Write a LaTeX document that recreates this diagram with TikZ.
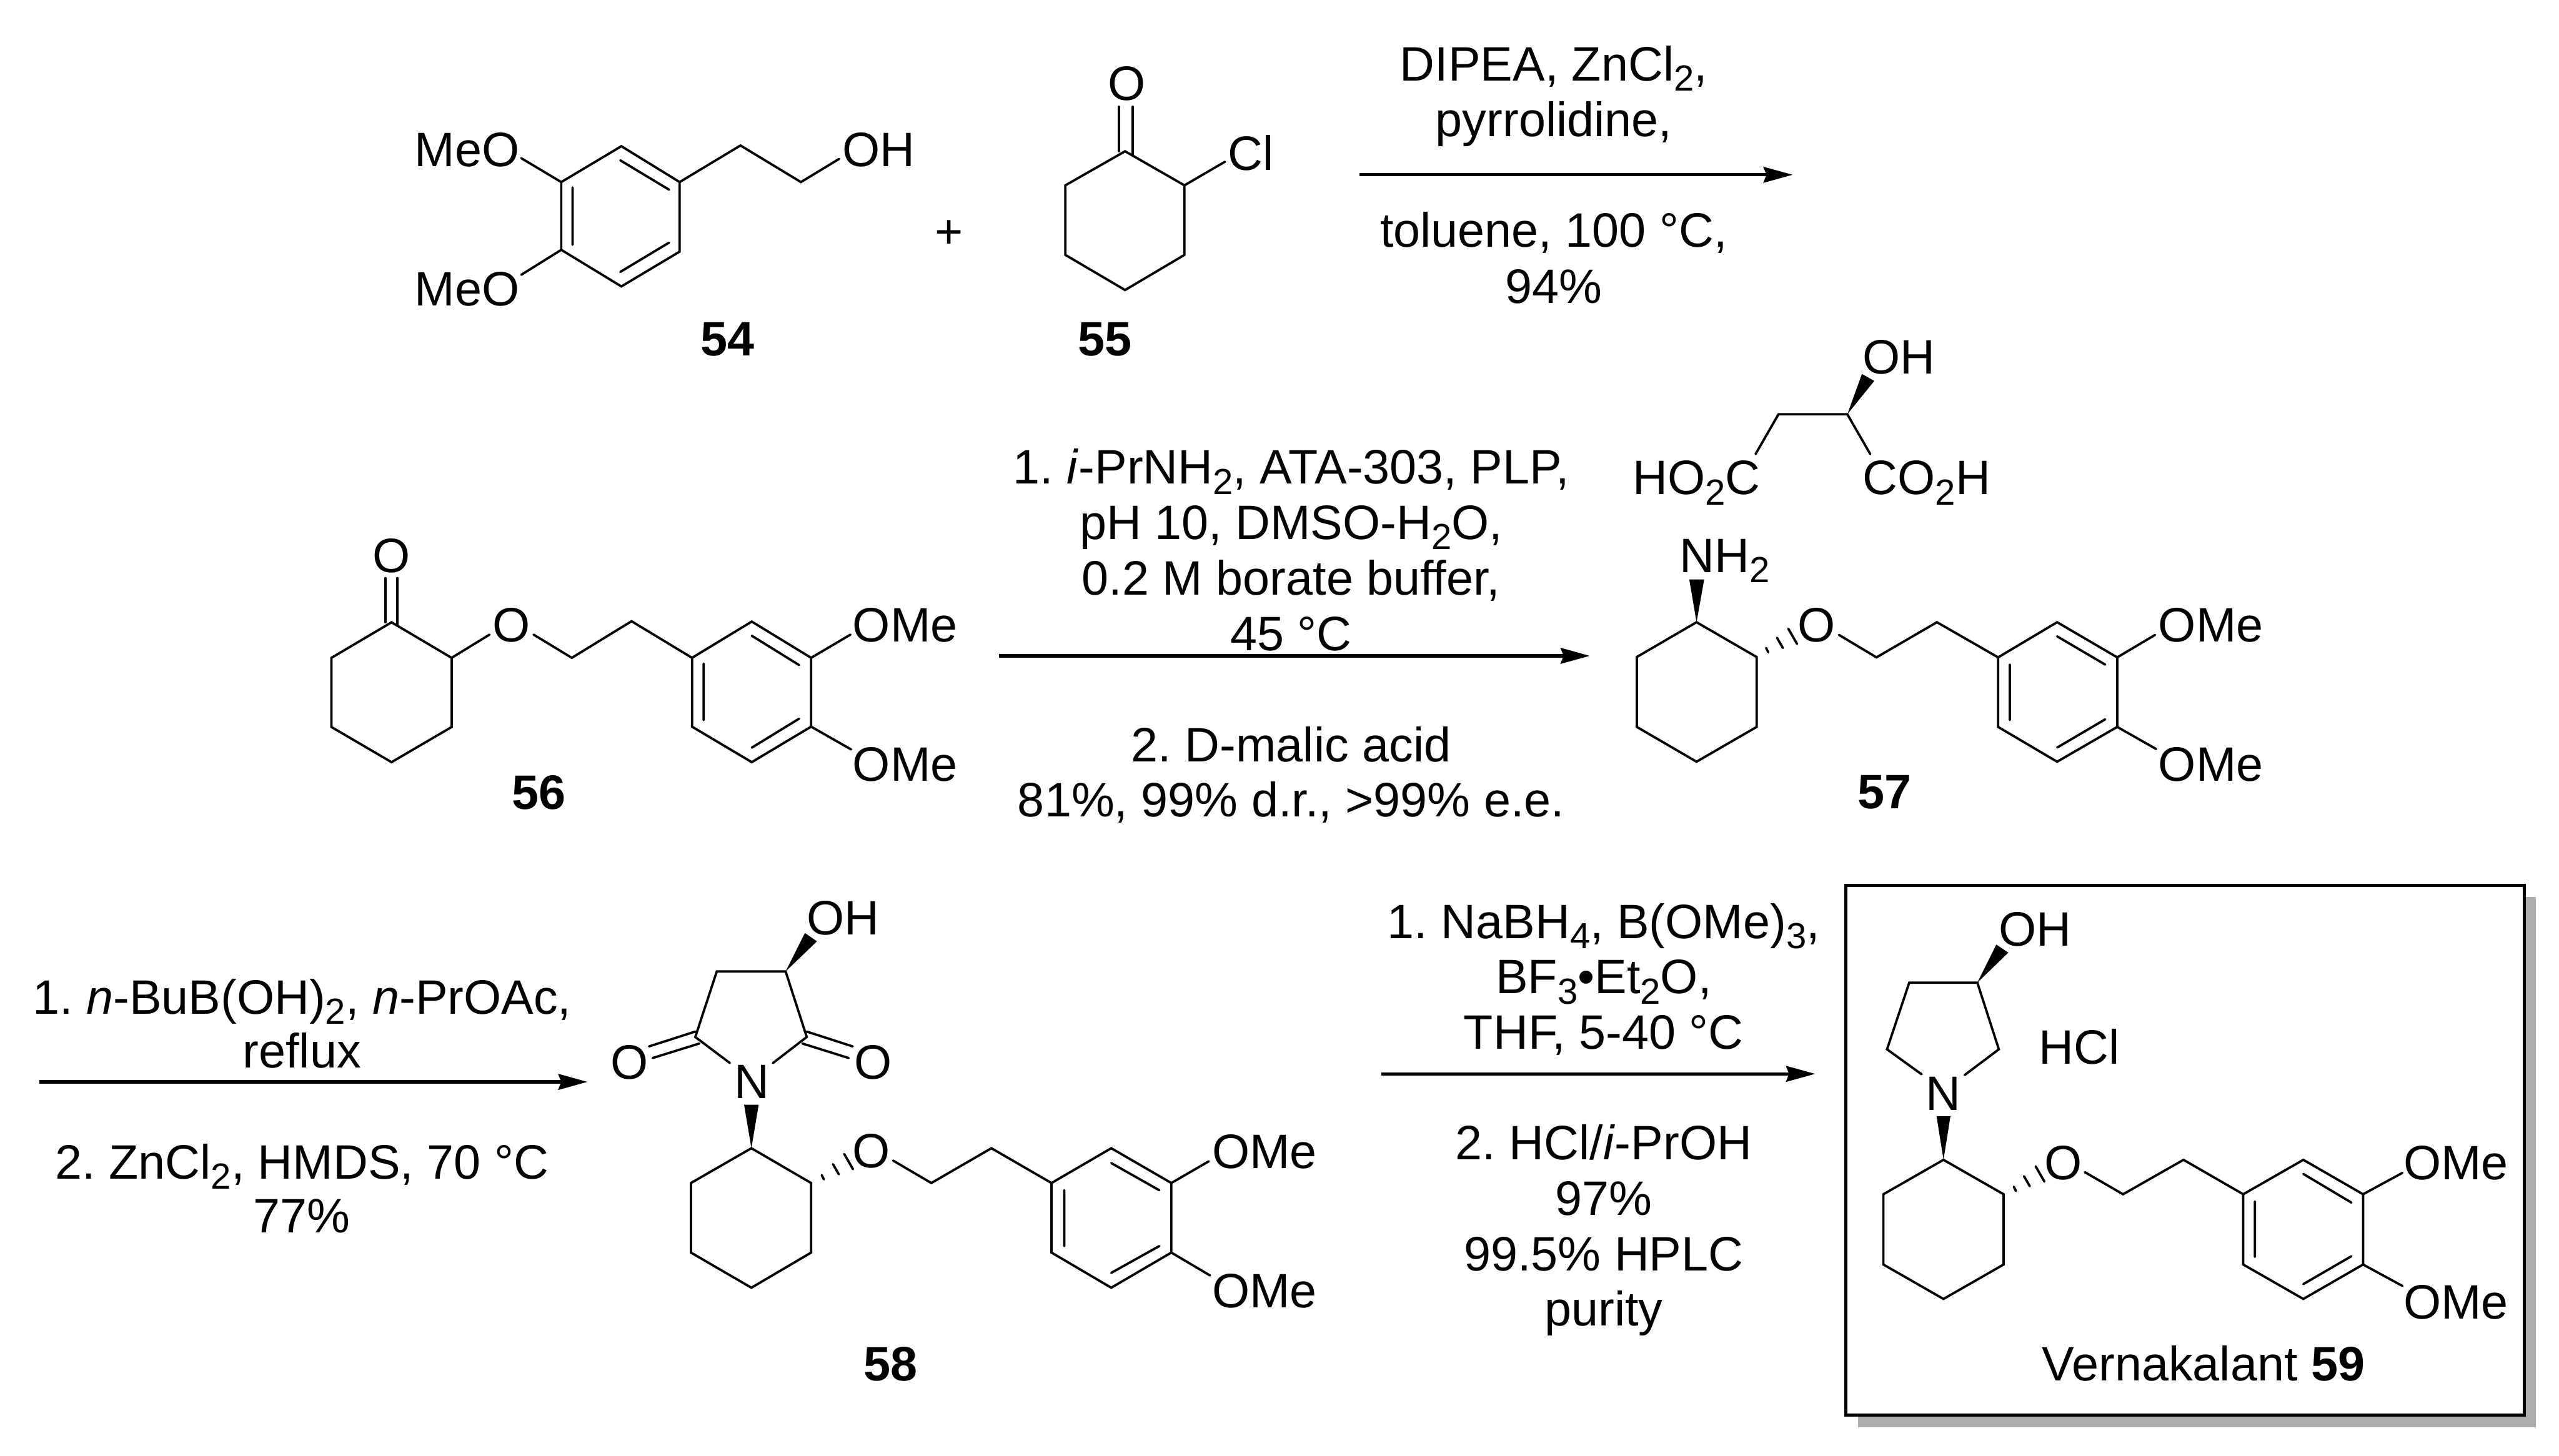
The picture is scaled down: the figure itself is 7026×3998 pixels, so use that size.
\documentclass[tikz,border=0pt]{standalone}
\usepackage{fontspec}
\setmainfont{Liberation Sans}
\usetikzlibrary{arrows.meta}
\newcommand\sbs[1]{\raisebox{-0.21em}{\fontsize{14.2pt}{14pt}\selectfont #1}}
\newcommand\lab[4]{\node[lbl] (#1) at (#2,#3+48) {#4};}
\tikzset{
 lbl/.style={anchor=base,inner sep=0pt,outer sep=0pt,text=black,font=\fontsize{18.9pt}{22pt}\selectfont\frenchspacing},
 bd/.style={line width=0.032cm,line cap=round,line join=miter,draw=black},
 rxn/.style={line width=0.045cm,draw=black,-{Stealth[length=0.4cm,width=0.215cm,inset=0.04cm]}},
 framebox/.style={line width=0.045cm,draw=black,fill=white},
 shadowbox/.style={fill=black!32,draw=none},
 fixy/.style={shift={(0,#1)},yscale=0.995,shift={(0,-#1)}}
}
\begin{document}
\begin{tikzpicture}[x=0.005cm,y=-0.005cm]
\useasboundingbox (0,0) rectangle (7026,3998);
\begin{scope}[fixy=100]
% --- 54
\draw[bd] (1541,502)--(1706,403)--(1866,502)--(1866,694)--(1706,790)--(1541,689)--cycle;
\draw[bd] (1703,442)--(1837,523) (1572,517)--(1572,675) (1703,750)--(1837,669);
\draw[bd] (1866,502)--(2033,401)--(2199,502)--(2304,438);
\draw[bd] (1541,502)--(1431,436) (1541,689)--(1431,758);
\lab{meoa}{1282}{411}{MeO}
\lab{meob}{1282}{795}{MeO}
\lab{oha}{2412}{411}{OH}
\lab{lfour}{1997}{934}{\textbf{54}}
\lab{plus}{2605}{637}{+}
% --- 55
\draw[bd] (3089,417)--(3252,511)--(3252,703)--(3089,800)--(2925,703)--(2925,511)--cycle;
\draw[bd] (3072,294)--(3072,417) (3110,294)--(3110,427);
\draw[bd] (3252,511)--(3363,446);
\lab{oa}{3093}{229}{O}
\lab{cl}{3434}{421}{Cl}
\lab{lfive}{3034}{934}{\textbf{55}}
\end{scope}
% --- arrow 1
\coordinate (a1s) at (3733,480); \coordinate (a1e) at (4922,480);
\draw[rxn] (a1s)--(a1e);
\lab{ra}{4266}{174}{DIPEA, ZnCl\sbs{2},}
\lab{rb}{4266}{327}{pyrrolidine,}
\lab{rc}{4266}{631}{toluene, 100 °C,}
\lab{rd}{4266}{784}{94\%}
\begin{scope}[fixy=1300]
% --- 56
\draw[bd] (1075,1711)--(1240,1809)--(1240,2000)--(1075,2097)--(910,2000)--(910,1809)--cycle;
\draw[bd] (1058,1589)--(1058,1711) (1091,1589)--(1091,1720);
\draw[bd] (1240,1809)--(1344,1745) (1465,1745)--(1570,1809)--(1734,1708)--(1900,1809);
\draw[bd] (1900,1809)--(2064,1709)--(2227,1809)--(2227,1999)--(2064,2097)--(1900,1999)--cycle;
\draw[bd] (1932,1825)--(1932,1981) (2064,1748)--(2194,1829) (2064,2057)--(2194,1977);
\draw[bd] (2227,1809)--(2335,1745) (2227,1999)--(2337,2062);
\lab{ob}{1075}{1525}{O}
\lab{oc}{1404}{1717}{O}
\lab{omea}{2485}{1717}{OMe}
\lab{omeb}{2485}{2101}{OMe}
\lab{lsix}{1480}{2178}{\textbf{56}}
\end{scope}
% --- arrow 2
\coordinate (a2s) at (2742,1801); \coordinate (a2e) at (4365,1801);
\draw[rxn] (a2s)--(a2e);
\lab{sa}{3545}{1281}{1. \textit{i}-PrNH\sbs{2}, ATA-303, PLP,}
\lab{sb}{3545}{1433}{pH 10, DMSO-H\sbs{2}O,}
\lab{sc}{3545}{1586}{0.2 M borate buffer,}
\lab{sd}{3545}{1738}{45 °C}
\lab{se}{3545}{2043}{2. D-malic acid}
\lab{sf}{3545}{2195}{81\%, 99\% d.r., >99\% e.e.}
\begin{scope}[fixy=850]
% --- malic acid
\draw[bd] (4820,1249)--(4883,1139)--(5072,1139)--(5135,1249);
\fill (5072,1139)--(5112,1028)--(5146,1047)--cycle;
\lab{ohb}{5213}{979}{OH}
\lab{hoc}{4658}{1313}{HO\sbs{2}C}
\lab{coh}{5290}{1313}{CO\sbs{2}H}
% --- 57
\fill (4658,1713)--(4638,1595)--(4679,1595)--cycle;
\draw[bd] (4658,1713)--(4823,1809)--(4823,2002)--(4658,2098)--(4494,2002)--(4494,1809)--cycle;
\draw[bd] (4849,1784)--(4855,1796) (4879,1756)--(4895,1784) (4910,1731)--(4934,1773);
\draw[bd] (5049,1748)--(5152,1810)--(5318,1713)--(5486,1810);
\draw[bd] (5486,1810)--(5648,1713)--(5813,1810)--(5813,2002)--(5648,2098)--(5486,2002)--cycle;
\draw[bd] (5518,1830)--(5518,1983) (5648,1752)--(5780,1830) (5648,2059)--(5780,1981);
\draw[bd] (5813,1810)--(5917,1748) (5813,2002)--(5920,2063);
\lab{nht}{4735}{1528}{NH\sbs{2}}
\lab{od}{4988}{1719}{O}
\lab{omec}{6070}{1719}{OMe}
\lab{omed}{6070}{2104}{OMe}
\lab{lseven}{5175}{2180}{\textbf{57}}
\end{scope}
% --- arrow 3
\coordinate (a3s) at (108,2971); \coordinate (a3e) at (1613,2971);
\draw[rxn] (a3s)--(a3e);
\lab{ta}{829}{2737}{1. \textit{n}-BuB(OH)\sbs{2}, \textit{n}-PrOAc,}
\lab{tb}{829}{2885}{reflux}
\lab{tc}{829}{3190}{2. ZnCl\sbs{2}, HMDS, 70 °C}
\lab{td}{829}{3338}{77\%}
\begin{scope}[fixy=2400]
% --- 58
\draw[bd] (2004,2922)--(1909,2850)--(1968,2669)--(2157,2669)--(2215,2850)--(2122,2922);
\fill (2157,2669)--(2210,2563)--(2243,2586)--cycle;
\draw[bd] (1782,2876)--(1909,2835) (1792,2908)--(1920,2868);
\draw[bd] (2215,2835)--(2341,2876) (2203,2868)--(2330,2908);
\fill (2063,3157)--(2043,3037)--(2083,3037)--cycle;
\draw[bd] (2063,3157)--(2227,3253)--(2227,3445)--(2063,3542)--(1897,3445)--(1897,3253)--cycle;
\draw[bd] (2256,3231)--(2262,3243) (2287,3201)--(2303,3229) (2318,3173)--(2342,3215);
\draw[bd] (2452,3191)--(2557,3253)--(2722,3157)--(2887,3253);
\draw[bd] (2887,3253)--(3051,3157)--(3216,3253)--(3216,3445)--(3051,3542)--(2887,3445)--cycle;
\draw[bd] (2922,3273)--(2922,3427) (3051,3198)--(3183,3273) (3051,3501)--(3183,3427);
\draw[bd] (3216,3253)--(3319,3193) (3216,3445)--(3322,3508);
\lab{ohc}{2315}{2520}{OH}
\lab{oe}{1728}{2918}{O}
\lab{of}{2397}{2918}{O}
\lab{na}{2064}{2971}{N}
\lab{og}{2393}{3163}{O}
\lab{omee}{3472}{3164}{OMe}
\lab{omef}{3472}{3549}{OMe}
\lab{leight}{2446}{3751}{\textbf{58}}
\end{scope}
% --- arrow 4
\coordinate (a4s) at (3793,2949); \coordinate (a4e) at (4984,2949);
\draw[rxn] (a4s)--(a4e);
\lab{ua}{4403}{2529}{1. NaBH\sbs{4}, B(OMe)\sbs{3},}
\lab{ub}{4403}{2681}{BF\sbs{3}•Et\sbs{2}O,}
\lab{uc}{4403}{2833}{THF, 5-40 °C}
\lab{ud}{4403}{3136}{2. HCl/\textit{i}-PrOH}
\lab{ue}{4403}{3289}{97\%}
\lab{uf}{4403}{3441}{99.5\% HPLC}
\lab{ug}{4403}{3593}{purity}
% --- box 59
\fill[shadowbox] (5101,2464) rectangle (6962,3919);
\draw[framebox] (5068,2431) rectangle (6930.5,3886.5);
\begin{scope}[fixy=2400]
\draw[bd] (5276,2953)--(5181,2884)--(5242,2700)--(5429,2700)--(5488,2884)--(5394,2955);
\fill (5429,2700)--(5481,2595)--(5514,2617)--cycle;
\fill (5336,3189)--(5317,3069)--(5355,3069)--cycle;
\draw[bd] (5336,3189)--(5501,3284)--(5501,3478)--(5336,3573)--(5171,3478)--(5171,3284)--cycle;
\draw[bd] (5529,3263)--(5535,3275) (5557,3234)--(5573,3262) (5589,3207)--(5613,3249);
\draw[bd] (5724,3223)--(5829,3284)--(5995,3189)--(6159,3284);
\draw[bd] (6159,3284)--(6324,3189)--(6488,3284)--(6488,3478)--(6324,3573)--(6159,3478)--cycle;
\draw[bd] (6191,3304)--(6191,3457) (6324,3228)--(6456,3307) (6324,3532)--(6456,3455);
\draw[bd] (6488,3284)--(6596,3225) (6488,3478)--(6596,3537);
\lab{ohd}{5588}{2551}{OH}
\lab{hcl}{5709}{2876}{HCl}
\lab{nb}{5336}{3004}{N}
\lab{oh}{5665}{3196}{O}
\lab{omeg}{6743}{3196}{OMe}
\lab{omeh}{6743}{3580}{OMe}
\lab{verna}{6050}{3750}{Vernakalant \textbf{59}}
\end{scope}
\end{tikzpicture}
\end{document}
